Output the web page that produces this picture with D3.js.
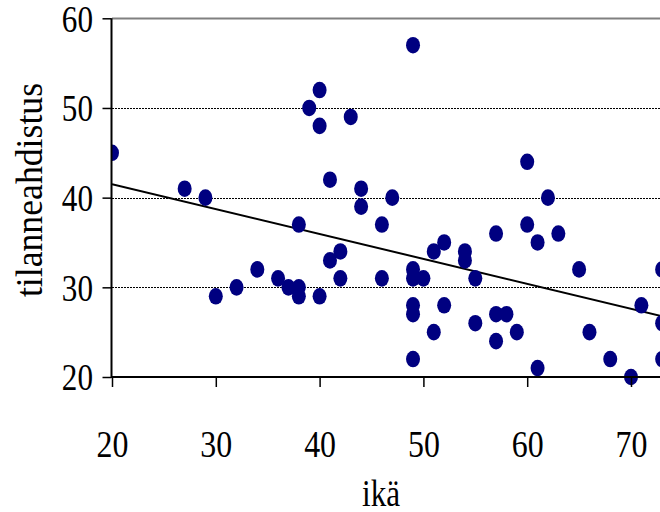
<!DOCTYPE html>
<html>
<head>
<meta charset="utf-8">
<script src="https://cdn.jsdelivr.net/npm/d3@7"></script>
<style>
  body { margin: 0; background: #fff; }
  svg text { font-family: "Liberation Serif", "Times New Roman", serif; }
</style>
</head>
<body>
<svg width="660" height="512"></svg>
<script>
// ikä (age) and tilanneahdistus (state anxiety)
var ika = [20, 27, 29, 30, 32, 34, 36, 37, 38, 38, 38, 39, 40, 40, 40, 41, 41, 42, 42,
  43, 44, 44, 46, 46, 47, 49, 49, 49, 49, 49, 49, 50, 51, 51, 52, 52, 54, 54, 55, 55,
  57, 57, 57, 58, 59, 60, 60, 61, 61, 62, 63, 65, 66, 68, 70, 71, 73, 73, 73];
var ahdistus = [45, 41, 40, 29, 30, 32, 31, 30, 37, 30, 29, 50, 52, 48, 29, 42, 33, 34, 31,
  49, 41, 39, 37, 31, 40, 57, 32, 31, 28, 27, 22, 31, 34, 25, 35, 28, 34, 33, 31, 26,
  36, 27, 24, 27, 25, 44, 37, 35, 21, 40, 36, 32, 25, 22, 20, 28, 32, 26, 22];

var yTicks = [20, 30, 40, 50, 60];
var xTicks = [20, 30, 40, 50, 60, 70];
var gridValues = [30, 40, 50];

// trend line (as drawn in the picture)
var trendIntercept = 47.07;
var trendSlope = -0.278;
var trendX = [20, 80];

var svg = d3.select('svg');

var x = d3.scaleLinear().domain([20, 80]).range([112, 112 + 60 * 10.38]);
var y = d3.scaleLinear().domain([20, 60]).range([377, 18.3]);

svg.append('clipPath').attr('id', 'plot')
  .append('rect').attr('x', 112).attr('y', 0).attr('width', 548).attr('height', 390);

// grid lines
svg.append('g')
  .selectAll('line')
  .data(gridValues)
  .enter()
  .append('line')
  .attr('x1', 112).attr('x2', 660)
  .attr('y1', function(d) { return Math.round(y(d)) + 0.5; })
  .attr('y2', function(d) { return Math.round(y(d)) + 0.5; })
  .attr('stroke', '#000')
  .attr('stroke-width', 1)
  .attr('stroke-dasharray', '2,1');

// top border of plot area
svg.append('line')
  .attr('x1', 112).attr('x2', 660)
  .attr('y1', 18.5).attr('y2', 18.5)
  .attr('stroke', '#808080')
  .attr('stroke-width', 2);

var plot = svg.append('g').attr('clip-path', 'url(#plot)');

// trend line
plot.append('line')
  .attr('x1', x(trendX[0])).attr('y1', y(trendIntercept + trendSlope * trendX[0]))
  .attr('x2', x(trendX[1])).attr('y2', y(trendIntercept + trendSlope * trendX[1]))
  .attr('stroke', '#000')
  .attr('stroke-width', 2);

// points
plot.selectAll('ellipse')
  .data(ika)
  .enter()
  .append('ellipse')
  .attr('cx', function(d) { return x(d); })
  .attr('cy', function(d, i) { return y(ahdistus[i]); })
  .attr('rx', 7)
  .attr('ry', 8.3)
  .attr('fill', '#000080');

// y axis
var yAxis = svg.append('g')
  .attr('transform', 'translate(111.5,0)')
  .call(d3.axisLeft(y).tickValues(yTicks).tickSize(9).tickPadding(9));
yAxis.attr('font-family', null).attr('font-size', null);
yAxis.select('.domain').attr('stroke-width', 2).attr('d', 'M0,' + y(60) + 'V' + (y(20) + 1));
yAxis.selectAll('.tick line').attr('stroke-width', 1.5);
yAxis.selectAll('.tick text')
  .style('font-size', '38px')
  .attr('fill', '#000')
  .attr('x', -18.5 / 0.82)
  .attr('dy', '0.34em')
  .attr('transform', 'scale(0.82,1)');

// x axis
var xAxis = svg.append('g')
  .attr('transform', 'translate(0,377)')
  .call(d3.axisBottom(x).tickValues(xTicks).tickSize(10).tickPadding(0));
xAxis.attr('font-family', null).attr('font-size', null);
xAxis.select('.domain').attr('stroke-width', 2).attr('d', 'M111,0H660');
xAxis.selectAll('.tick line').attr('stroke-width', 1.5);
xAxis.selectAll('.tick text')
  .style('font-size', '38px')
  .attr('fill', '#000')
  .attr('y', 80)
  .attr('dy', 0)
  .attr('transform', 'scale(0.84,1)');

// axis titles
svg.append('text')
  .attr('transform', 'translate(381,506) scale(0.82,1)')
  .attr('text-anchor', 'middle')
  .style('font-size', '38px')
  .text('ikä');

svg.append('text')
  .attr('transform', 'translate(42,190) rotate(-90) scale(0.94,1)')
  .attr('text-anchor', 'middle')
  .style('font-size', '38px')
  .text('tilanneahdistus');
</script>
</body>
</html>
